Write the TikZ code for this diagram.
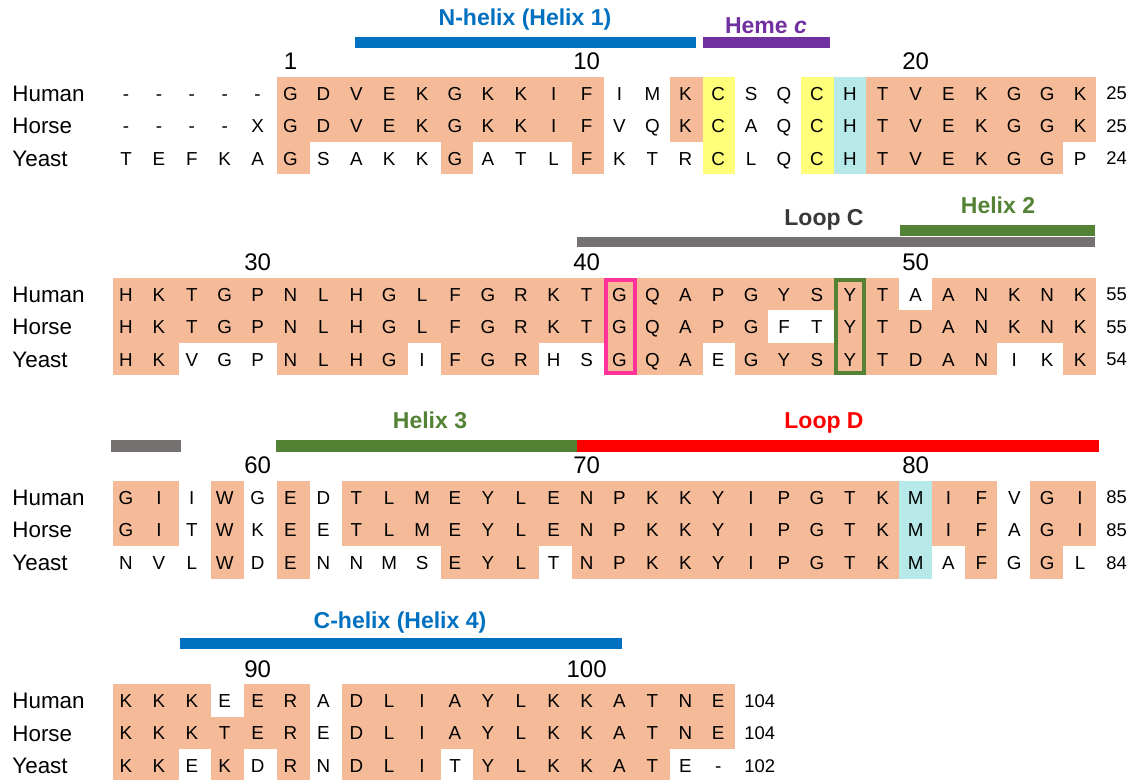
\documentclass[tikz,border=0pt]{standalone}
\usepackage{fontspec}
\setmainfont{Liberation Sans}
\usepackage{tikz}
\usetikzlibrary{positioning}
\definecolor{cytcsalmon}{HTML}{F5BB98}
\definecolor{cytcyellow}{HTML}{FFFF7A}
\definecolor{cytccyan}{HTML}{B7E9E8}
\definecolor{cytcpink}{HTML}{FF3399}
\definecolor{cytcgreen}{HTML}{548235}
\definecolor{cytcgray}{HTML}{767171}
\definecolor{cytcdark}{HTML}{3B3838}
\definecolor{cytcred}{HTML}{FF0000}
\definecolor{cytcblue}{HTML}{0070C0}
\definecolor{cytcpurple}{HTML}{7030A0}

\begin{document}
\begin{tikzpicture}[x=0.5pt, y=-0.5pt,
  res/.style={font=\fontsize{9.4}{11}\selectfont, inner sep=0pt, anchor=base},
  species/.style={font=\fontsize{11.2}{13}\selectfont, inner sep=0pt, anchor=base west},
  posnum/.style={font=\fontsize{12}{14}\selectfont, inner sep=0pt, anchor=base},
  endnum/.style={font=\fontsize{9.2}{10}\selectfont, inner sep=0pt, anchor=base west},
  feat/.style={font=\bfseries\fontsize{11.5}{14}\selectfont, inner sep=0pt, anchor=base},
  cons/.style={fill=cytcsalmon},
  cysbox/.style={fill=cytcyellow},
  hisbox/.style={fill=cytccyan},
  keybox/.style={line width=2pt}
]
\fill[white] (0,0) rectangle (1141,780);
\useasboundingbox (0,0) rectangle (1141,780);

% ---- block 1 (1-25)
\fill[cytcblue] (355,37) rectangle (696,48);
\fill[cytcpurple] (703,37) rectangle (830,48);
\node[feat, text=cytcblue] (nhelix) at (525,25.5) {N-helix (Helix 1)};
\node[feat, text=cytcpurple] (heme) at (766,34) {Heme \textit{c}};

\foreach \a/\b in {5/14,17/17,23/29} \fill[cons] ({113+32.75*\a},77) rectangle ({113+32.75*(\b+1)},109.5);
\foreach \a/\b in {5/14,17/17,23/29} \fill[cons] ({113+32.75*\a},109.5) rectangle ({113+32.75*(\b+1)},142);
\foreach \a/\b in {5/5,10/10,14/14,23/28} \fill[cons] ({113+32.75*\a},142) rectangle ({113+32.75*(\b+1)},174.5);
\foreach \a in {18,21} \fill[cysbox] ({113+32.75*\a},77) rectangle ({113+32.75*(\a+1)},174.5);
\fill[hisbox] ({113+32.75*22},77) rectangle ({113+32.75*23},174.5);

\node[posnum] (n1) at ({126+32.9*5},70) {1};
\node[posnum] (n10) at ({126+32.9*14},70) {10};
\node[posnum] (n20) at ({126+32.9*24},70) {20};

\node[species] (hu1) at (12,101.5) {Human};
\node[species] (ho1) at (12,134) {Horse};
\node[species] (ye1) at (12,166.5) {Yeast};
\foreach \aa [count=\i from 0] in {-,-,-,-,-,G,D,V,E,K,G,K,K,I,F,I,M,K,C,S,Q,C,H,T,V,E,K,G,G,K}
  \node[res] (hu1-\i) at ({126+32.9*\i},100.3) {\aa};
\foreach \aa [count=\i from 0] in {-,-,-,-,X,G,D,V,E,K,G,K,K,I,F,V,Q,K,C,A,Q,C,H,T,V,E,K,G,G,K}
  \node[res] (ho1-\i) at ({126+32.9*\i},132.8) {\aa};
\foreach \aa [count=\i from 0] in {T,E,F,K,A,G,S,A,K,K,G,A,T,L,F,K,T,R,C,L,Q,C,H,T,V,E,K,G,G,P}
  \node[res] (ye1-\i) at ({126+32.9*\i},165.3) {\aa};
\node[endnum] (hu1e) at (1106,100) {25};
\node[endnum] (ho1e) at (1106,132.5) {25};
\node[endnum] (ye1e) at (1106,165) {24};

% ---- block 2 (26-55)
\fill[cytcgray] (577,237) rectangle (1095,247);
\fill[cytcgreen] (900,225) rectangle (1095,236);
\node[feat, text=cytcdark] (loopc) at (824,225.5) {Loop C};
\node[feat, text=cytcgreen] (helix2) at (998,213.5) {Helix 2};

\foreach \a/\b in {0/23,25/29} \fill[cons] ({113+32.75*\a},278) rectangle ({113+32.75*(\b+1)},310.5);
\foreach \a/\b in {0/19,22/29} \fill[cons] ({113+32.75*\a},310.5) rectangle ({113+32.75*(\b+1)},343);
\foreach \a/\b in {0/1,5/8,10/12,15/17,19/26,29/29} \fill[cons] ({113+32.75*\a},343) rectangle ({113+32.75*(\b+1)},375.5);

\node[posnum] (n30) at ({126+32.9*4},271) {30};
\node[posnum] (n40) at ({126+32.9*14},271) {40};
\node[posnum] (n50) at ({126+32.9*24},271) {50};

\node[species] (hu2) at (12,302.5) {Human};
\node[species] (ho2) at (12,335) {Horse};
\node[species] (ye2) at (12,367.5) {Yeast};
\foreach \aa [count=\i from 0] in {H,K,T,G,P,N,L,H,G,L,F,G,R,K,T,G,Q,A,P,G,Y,S,Y,T,A,A,N,K,N,K}
  \node[res] (hu2-\i) at ({126+32.9*\i},301.3) {\aa};
\foreach \aa [count=\i from 0] in {H,K,T,G,P,N,L,H,G,L,F,G,R,K,T,G,Q,A,P,G,F,T,Y,T,D,A,N,K,N,K}
  \node[res] (ho2-\i) at ({126+32.9*\i},333.8) {\aa};
\foreach \aa [count=\i from 0] in {H,K,V,G,P,N,L,H,G,I,F,G,R,H,S,G,Q,A,E,G,Y,S,Y,T,D,A,N,I,K,K}
  \node[res] (ye2-\i) at ({126+32.9*\i},366.3) {\aa};
\node[endnum] (hu2e) at (1106,301) {55};
\node[endnum] (ho2e) at (1106,333.5) {55};
\node[endnum] (ye2e) at (1106,366) {54};

\draw[keybox, cytcpink] ({113+32.75*15+2},280) rectangle ({113+32.75*16-2},373.5);
\draw[keybox, cytcgreen] ({113+32.75*22+2},280) rectangle ({113+32.75*23-2},373.5);

% ---- block 3 (56-85)
\fill[cytcgray] (111,440) rectangle (181,452);
\fill[cytcgreen] (276,440) rectangle (577,452);
\fill[cytcred] (577,440) rectangle (1099,452);
\node[feat, text=cytcgreen] (helix3) at (430,428.5) {Helix 3};
\node[feat, text=cytcred] (loopd) at (824,428.5) {Loop D};

\foreach \a/\b in {0/1,3/3,5/5,7/23,25/26,28/29} \fill[cons] ({113+32.75*\a},481) rectangle ({113+32.75*(\b+1)},546);
\foreach \a/\b in {3/3,5/5,10/12,14/23,26/26,28/28} \fill[cons] ({113+32.75*\a},546) rectangle ({113+32.75*(\b+1)},578.5);
\fill[hisbox] ({113+32.75*24},481) rectangle ({113+32.75*25},578.5);

\node[posnum] (n60) at ({126+32.9*4},474) {60};
\node[posnum] (n70) at ({126+32.9*14},474) {70};
\node[posnum] (n80) at ({126+32.9*24},474) {80};

\node[species] (hu3) at (12,505.5) {Human};
\node[species] (ho3) at (12,538) {Horse};
\node[species] (ye3) at (12,570.5) {Yeast};
\foreach \aa [count=\i from 0] in {G,I,I,W,G,E,D,T,L,M,E,Y,L,E,N,P,K,K,Y,I,P,G,T,K,M,I,F,V,G,I}
  \node[res] (hu3-\i) at ({126+32.9*\i},504.3) {\aa};
\foreach \aa [count=\i from 0] in {G,I,T,W,K,E,E,T,L,M,E,Y,L,E,N,P,K,K,Y,I,P,G,T,K,M,I,F,A,G,I}
  \node[res] (ho3-\i) at ({126+32.9*\i},536.8) {\aa};
\foreach \aa [count=\i from 0] in {N,V,L,W,D,E,N,N,M,S,E,Y,L,T,N,P,K,K,Y,I,P,G,T,K,M,A,F,G,G,L}
  \node[res] (ye3-\i) at ({126+32.9*\i},569.3) {\aa};
\node[endnum] (hu3e) at (1106,504) {85};
\node[endnum] (ho3e) at (1106,536.5) {85};
\node[endnum] (ye3e) at (1106,569) {84};

% ---- block 4 (86-104)
\fill[cytcblue] (180,638) rectangle (622,649);
\node[feat, text=cytcblue] (chelix) at (400,628.5) {C-helix (Helix 4)};

\foreach \a/\b in {0/2,4/5,7/18} \fill[cons] ({113+32.75*\a},684) rectangle ({113+32.75*(\b+1)},716.5);
\foreach \a/\b in {0/5,7/18} \fill[cons] ({113+32.75*\a},716.5) rectangle ({113+32.75*(\b+1)},749);
\foreach \a/\b in {0/1,3/3,5/5,7/9,11/16} \fill[cons] ({113+32.75*\a},749) rectangle ({113+32.75*(\b+1)},780);

\node[posnum] (n90) at ({126+32.9*4},677) {90};
\node[posnum] (n100) at ({126+32.9*14},677) {100};

\node[species] (hu4) at (12,708.5) {Human};
\node[species] (ho4) at (12,741) {Horse};
\node[species] (ye4) at (12,773.5) {Yeast};
\foreach \aa [count=\i from 0] in {K,K,K,E,E,R,A,D,L,I,A,Y,L,K,K,A,T,N,E}
  \node[res] (hu4-\i) at ({126+32.9*\i},707.3) {\aa};
\foreach \aa [count=\i from 0] in {K,K,K,T,E,R,E,D,L,I,A,Y,L,K,K,A,T,N,E}
  \node[res] (ho4-\i) at ({126+32.9*\i},739.8) {\aa};
\foreach \aa [count=\i from 0] in {K,K,E,K,D,R,N,D,L,I,T,Y,L,K,K,A,T,E,-}
  \node[res] (ye4-\i) at ({126+32.9*\i},772.3) {\aa};
\node[endnum] (hu4e) at (744,707) {104};
\node[endnum] (ho4e) at (744,739.5) {104};
\node[endnum] (ye4e) at (744,772) {102};
\end{tikzpicture}
\end{document}
